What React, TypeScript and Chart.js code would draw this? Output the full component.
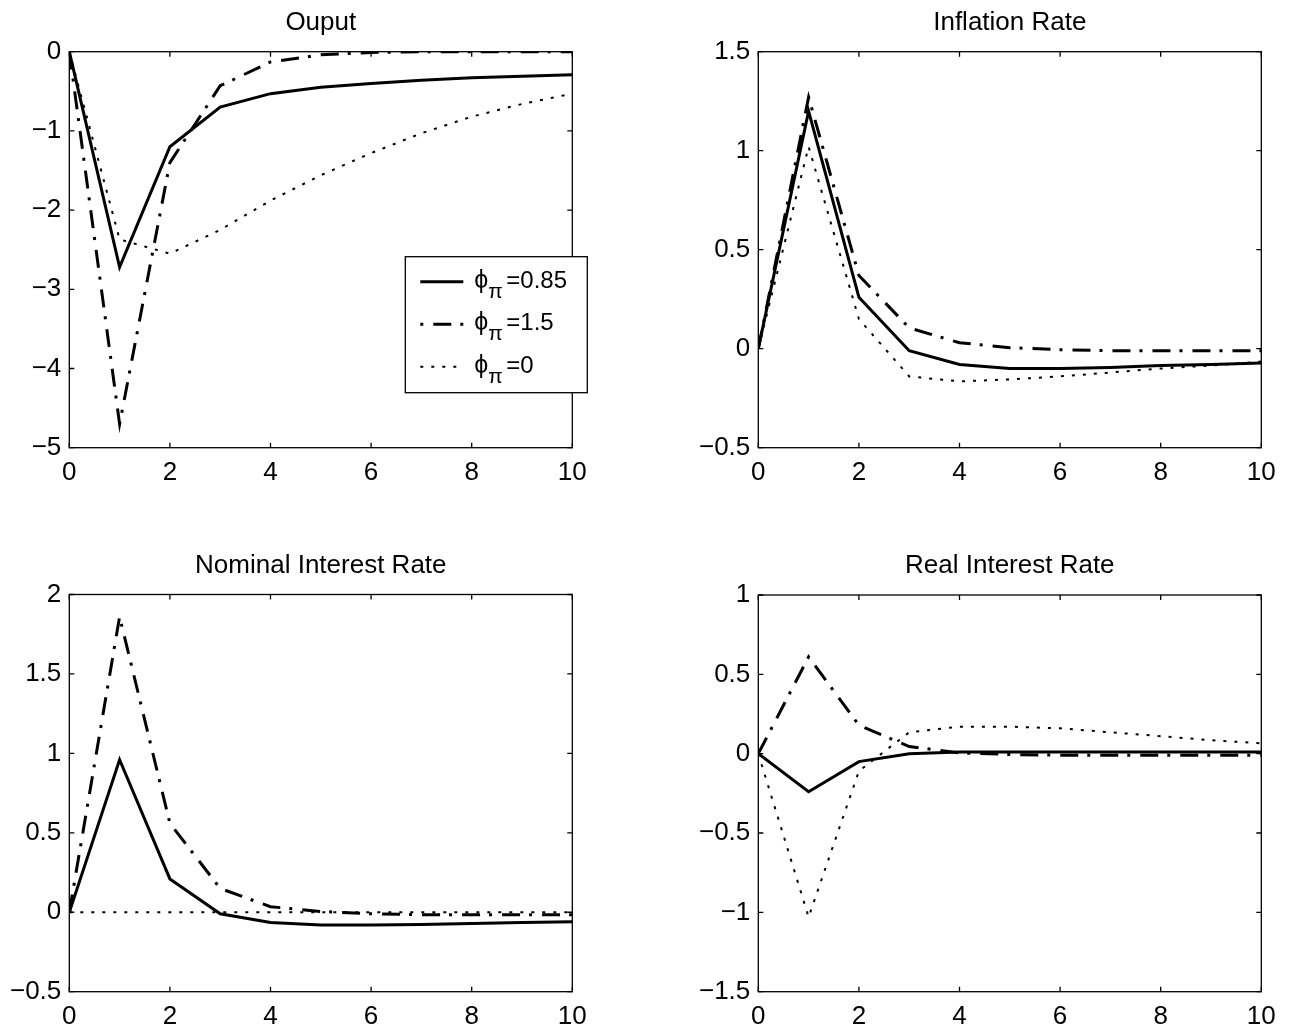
import React, { useEffect, useRef } from "react";
import { Chart, registerables } from "chart.js";

Chart.register(...registerables);

// ---------- data ----------
const periods = [0, 1, 2, 3, 4, 5, 6, 7, 8, 9, 10];
const phiLabels = ["0.85", "1.5", "0"];
const xTicksStep = 2;

const outputPhi085 = [0, -2.72, -1.2, -0.7, -0.53, -0.45, -0.4, -0.36, -0.33, -0.31, -0.29];
const outputPhi15 = [0, -4.7, -1.4, -0.43, -0.13, -0.04, -0.01, 0, 0, 0, 0];
const outputPhi0 = [0, -2.37, -2.55, -2.25, -1.88, -1.56, -1.28, -1.03, -0.82, -0.66, -0.53];

const inflPhi085 = [0, 1.2, 0.26, -0.01, -0.08, -0.1, -0.1, -0.095, -0.085, -0.08, -0.072];
const inflPhi15 = [0, 1.27, 0.37, 0.105, 0.03, 0.005, -0.005, -0.01, -0.01, -0.01, -0.01];
const inflPhi0 = [0, 1.02, 0.15, -0.14, -0.165, -0.155, -0.14, -0.12, -0.1, -0.085, -0.065];

const nomPhi085 = [0, 0.96, 0.21, -0.01, -0.065, -0.08, -0.08, -0.077, -0.07, -0.065, -0.06];
const nomPhi15 = [0, 1.86, 0.56, 0.15, 0.035, 0.005, -0.01, -0.015, -0.015, -0.015, -0.015];
const nomPhi0 = [0, 0, 0, 0, 0, 0, 0, 0, 0, 0, 0];

const realPhi085 = [0, -0.24, -0.05, 0, 0.01, 0.01, 0.01, 0.01, 0.01, 0.01, 0.01];
const realPhi15 = [0, 0.61, 0.18, 0.045, 0.005, -0.005, -0.01, -0.01, -0.01, -0.01, -0.01];
const realPhi0 = [0, -1.03, -0.11, 0.135, 0.17, 0.17, 0.16, 0.135, 0.11, 0.085, 0.065];

const titles = ["Ouput", "Inflation Rate", "Nominal Interest Rate", "Real Interest Rate"];
const yRanges = [
  { min: -5, max: 0, step: 1 },
  { min: -0.5, max: 1.5, step: 0.5 },
  { min: -0.5, max: 2, step: 0.5 },
  { min: -1.5, max: 1, step: 0.5 },
];

// ---------- styling ----------
const FONT = "'Liberation Sans', Arial, Helvetica, 'DejaVu Sans', sans-serif";
const TICK_FONT_SIZE = 26;
const TITLE_FONT_SIZE = 26;
const LINE_H = 1.2;

const lineStyles = [
  { borderWidth: 3, borderDash: [] as number[], legendOffset: 0 },
  { borderWidth: 3, borderDash: [18, 9, 3, 10], legendOffset: 27 },
  { borderWidth: 2, borderDash: [3, 8], legendOffset: 0 },
];

function fmt(v: number) {
  const r = Math.round(v * 1000) / 1000;
  const s = String(Math.abs(r));
  return r < 0 ? "\u2212" + s : s;
}

const framePlugin = {
  id: "matlabFrame",
  afterDraw(chart: any) {
    const { ctx, chartArea: a, scales } = chart;
    ctx.save();
    ctx.strokeStyle = "#000";
    ctx.lineWidth = 1.3;
    ctx.setLineDash([]);
    ctx.strokeRect(a.left, a.top, a.right - a.left, a.bottom - a.top);
    const tl = 5;
    ctx.beginPath();
    scales.x.ticks.forEach((t: any) => {
      const px = scales.x.getPixelForValue(t.value);
      ctx.moveTo(px, a.bottom);
      ctx.lineTo(px, a.bottom - tl);
      ctx.moveTo(px, a.top);
      ctx.lineTo(px, a.top + tl);
    });
    scales.y.ticks.forEach((t: any) => {
      const py = scales.y.getPixelForValue(t.value);
      ctx.moveTo(a.left, py);
      ctx.lineTo(a.left + tl, py);
      ctx.moveTo(a.right, py);
      ctx.lineTo(a.right - tl, py);
    });
    ctx.stroke();
    ctx.restore();
  },
};

const legendPlugin = {
  id: "phiLegend",
  afterDraw(chart: any) {
    const { ctx, chartArea: a } = chart;
    const left = a.right - 167;
    const top = a.top + 205;
    const w = 182;
    const h = 136;
    ctx.save();
    ctx.fillStyle = "#fff";
    ctx.fillRect(left, top, w, h);
    ctx.strokeStyle = "#000";
    ctx.lineWidth = 1.3;
    ctx.setLineDash([]);
    ctx.strokeRect(left, top, w, h);
    chart.data.datasets.forEach((ds: any, i: number) => {
      const ly = top + 25 + i * 42.5;
      ctx.beginPath();
      ctx.lineWidth = ds.borderWidth;
      ctx.setLineDash(ds.borderDash || []);
      ctx.lineDashOffset = lineStyles[i].legendOffset;
      ctx.moveTo(left + 15, ly);
      ctx.lineTo(left + 58, ly);
      ctx.stroke();
      ctx.setLineDash([]);
      ctx.lineDashOffset = 0;
      const base = top + 31 + i * 42.5;
      ctx.fillStyle = "#000";
      ctx.textAlign = "left";
      ctx.textBaseline = "alphabetic";
      ctx.font = `25px ${FONT}`;
      ctx.fillText("\u03D5", left + 69, base);
      ctx.font = `21px ${FONT}`;
      ctx.fillText("\u03C0", left + 83, base + 10);
      ctx.font = `24px ${FONT}`;
      ctx.fillText("=" + phiLabels[i], left + 101, base);
    });
    ctx.restore();
  },
};

type PanelSpec = {
  title: string;
  series: number[][];
  yr: { min: number; max: number; step: number };
  cl: number; ct: number; cw: number; ch: number;
  pl: number; pr: number; pt: number; pb: number;
  titleCenter: number;
  legend?: boolean;
};

function Panel({ spec }: { spec: PanelSpec }) {
  const ref = useRef<HTMLCanvasElement>(null);
  useEffect(() => {
    if (!ref.current) return;
    const yAxisW = spec.pl - spec.cl;
    const padRight = spec.cl + spec.cw - spec.pr;
    const xAxisH = spec.ct + spec.ch - spec.pb;
    const lh = TITLE_FONT_SIZE * LINE_H;
    const tPadTop = spec.titleCenter - spec.ct - lh / 2;
    const tPadBottom = spec.pt - spec.ct - tPadTop - lh;

    const datasets = spec.series.map((vals, i) => ({
      label: "\u03D5\u03C0=" + phiLabels[i],
      data: periods.map((p, j) => ({ x: p, y: vals[j] })),
      borderColor: "#000",
      backgroundColor: "#000",
      borderWidth: lineStyles[i].borderWidth,
      borderDash: lineStyles[i].borderDash,
      borderCapStyle: "butt" as const,
      borderJoinStyle: "miter" as const,
      pointRadius: 0,
      fill: false,
      tension: 0,
    }));

    const chart = new Chart(ref.current, {
      type: "line",
      data: { datasets },
      options: {
        responsive: false,
        animation: false,
        events: [],
        layout: { padding: { left: 0, right: padRight, top: 0, bottom: 0 } },
        plugins: {
          legend: { display: false },
          tooltip: { enabled: false },
          title: {
            display: true,
            text: spec.title,
            fullSize: false,
            color: "#000",
            font: { family: FONT, size: TITLE_FONT_SIZE, weight: "normal", lineHeight: LINE_H },
            padding: { top: tPadTop, bottom: tPadBottom },
          },
        },
        scales: {
          x: {
            type: "linear",
            min: 0,
            max: 10,
            grid: { display: false, drawTicks: false },
            border: { display: false },
            ticks: {
              stepSize: xTicksStep,
              color: "#000",
              padding: 10,
              maxRotation: 0,
              font: { family: FONT, size: TICK_FONT_SIZE, lineHeight: LINE_H },
              callback: (v: any) => fmt(Number(v)),
            },
            afterFit: (s: any) => {
              s.height = xAxisH;
            },
          },
          y: {
            type: "linear",
            min: spec.yr.min,
            max: spec.yr.max,
            grid: { display: false, drawTicks: false },
            border: { display: false },
            ticks: {
              stepSize: spec.yr.step,
              color: "#000",
              padding: 8,
              font: { family: FONT, size: TICK_FONT_SIZE, lineHeight: LINE_H },
              callback: (v: any) => fmt(Number(v)),
            },
            afterFit: (s: any) => {
              s.width = yAxisW;
            },
          },
        },
      },
      plugins: spec.legend ? [framePlugin, legendPlugin] : [framePlugin],
    } as any);
    return () => chart.destroy();
  }, []);
  return (
    <div style={{ position: "absolute", left: spec.cl, top: spec.ct, width: spec.cw, height: spec.ch }}>
      <canvas ref={ref} width={spec.cw} height={spec.ch} style={{ width: spec.cw, height: spec.ch, display: "block" }} />
    </div>
  );
}

const specs: PanelSpec[] = [
  {
    title: titles[0], series: [outputPhi085, outputPhi15, outputPhi0], yr: yRanges[0],
    cl: 0, ct: 0, cw: 640, ch: 510, pl: 69.3, pr: 572.3, pt: 51.7, pb: 447.7, titleCenter: 23, legend: true,
  },
  {
    title: titles[1], series: [inflPhi085, inflPhi15, inflPhi0], yr: yRanges[1],
    cl: 690, ct: 0, cw: 605, ch: 510, pl: 758.3, pr: 1261.3, pt: 51.7, pb: 447.7, titleCenter: 23,
  },
  {
    title: titles[2], series: [nomPhi085, nomPhi15, nomPhi0], yr: yRanges[2],
    cl: 0, ct: 540, cw: 640, ch: 492, pl: 69.3, pr: 572.3, pt: 594.5, pb: 991.7, titleCenter: 565.5,
  },
  {
    title: titles[3], series: [realPhi085, realPhi15, realPhi0], yr: yRanges[3],
    cl: 690, ct: 540, cw: 605, ch: 492, pl: 758.3, pr: 1261.3, pt: 595, pb: 991.7, titleCenter: 565.5,
  },
];

export default function App() {
  return (
    <div style={{ position: "absolute", left: 0, top: 0, width: 1295, height: 1032, background: "#fff", overflow: "hidden" }}>
      {specs.map((s, i) => (
        <Panel key={i} spec={s} />
      ))}
    </div>
  );
}
